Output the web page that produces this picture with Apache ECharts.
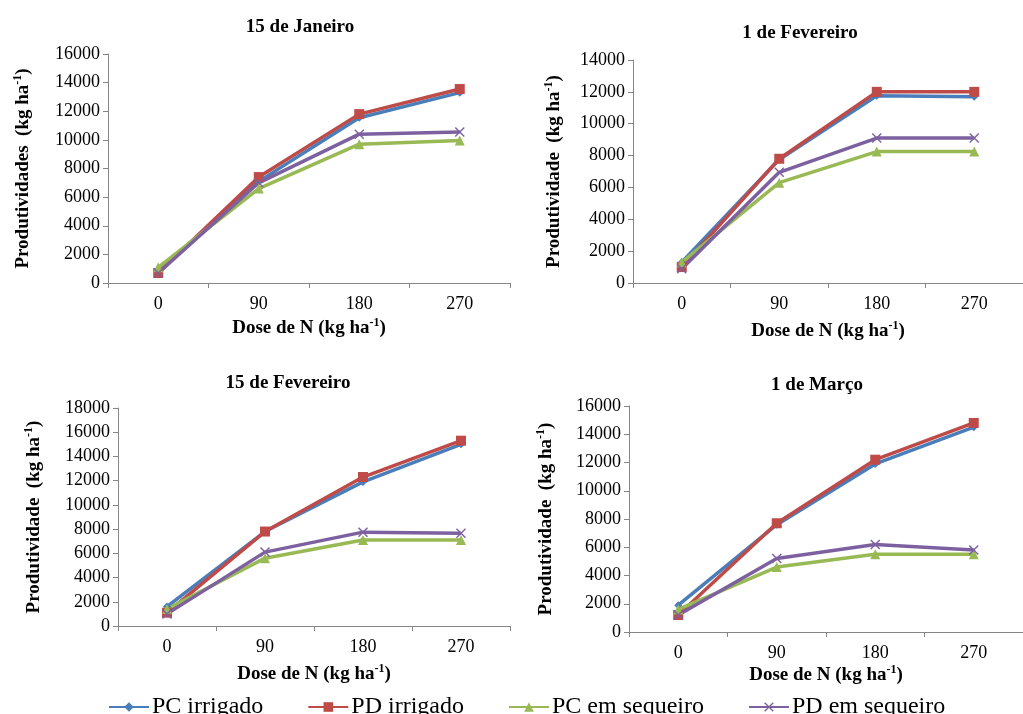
<!DOCTYPE html>
<html>
<head>
<meta charset="utf-8">
<script src="https://cdn.jsdelivr.net/npm/echarts@6/dist/echarts.min.js"></script>
<style>html,body{margin:0;padding:0;background:#fff;}#c{width:1023px;height:714px;}</style>
</head>
<body>
<div id="c"></div>
<script>
const categories = ['0', '90', '180', '270'];
const seriesNames = ['PC irrigado', 'PD irrigado', 'PC em sequeiro', 'PD em sequeiro'];
const panelTitles = ['15 de Janeiro', '1 de Fevereiro', '15 de Fevereiro', '1 de Março'];
const yNames = ['Produtividades', 'Produtividade', 'Produtividade', 'Produtividade'];
const yMax = [16000, 14000, 18000, 16000];
const yInterval = 2000;

const jan15_pcIrr = [800, 7100, 11550, 13300];
const jan15_pdIrr = [700, 7400, 11800, 13550];
const jan15_pcSeq = [1100, 6600, 9700, 9950];
const jan15_pdSeq = [700, 7000, 10400, 10550];

const feb1_pcIrr = [1300, 7750, 11750, 11700];
const feb1_pdIrr = [1000, 7800, 12000, 12000];
const feb1_pcSeq = [1300, 6300, 8250, 8250];
const feb1_pdSeq = [900, 6950, 9100, 9100];

const feb15_pcIrr = [1600, 7800, 11900, 15000];
const feb15_pdIrr = [1100, 7800, 12300, 15300];
const feb15_pcSeq = [1400, 5600, 7100, 7100];
const feb15_pdSeq = [1000, 6100, 7750, 7650];

const mar1_pcIrr = [1900, 7600, 11900, 14500];
const mar1_pdIrr = [1200, 7700, 12200, 14800];
const mar1_pcSeq = [1600, 4600, 5500, 5500];
const mar1_pdSeq = [1200, 5200, 6200, 5800];

const panelData = [
  [jan15_pcIrr, jan15_pdIrr, jan15_pcSeq, jan15_pdSeq],
  [feb1_pcIrr, feb1_pdIrr, feb1_pcSeq, feb1_pdSeq],
  [feb15_pcIrr, feb15_pdIrr, feb15_pcSeq, feb15_pdSeq],
  [mar1_pcIrr, mar1_pdIrr, mar1_pcSeq, mar1_pdSeq]
];

const FONT = 'Liberation Serif, Times New Roman, serif';
const colors = ['#4A7EBB', '#BE4B48', '#98B954', '#7D60A0'];
const xSymbol = 'path://M1,0 L5,4 L9,0 L10,1 L6,5 L10,9 L9,10 L5,6 L1,10 L0,9 L4,5 L0,1 Z';
const symbols = ['diamond', 'rect', 'triangle', xSymbol];
const symbolSizes = [8, 10, 10, 10];

const grids = [
  {left: 108, top: 54, width: 402, height: 229},
  {left: 633, top: 60, width: 400, height: 223},
  {left: 118, top: 408, width: 392, height: 218},
  {left: 629, top: 406, width: 394, height: 226}
];
const titlePos = [[300, 27], [800, 33], [288, 383], [817, 385]];
const xNameGap = [34, 37, 37, 32];
const yNameGap = [74, 68, 73, 72];

const rich = {
  a: {fontFamily: FONT, fontWeight: 'bold', fontSize: 19, color: '#000', lineHeight: 22},
  s: {fontFamily: FONT, fontWeight: 'bold', fontSize: 12, color: '#000', verticalAlign: 'top', lineHeight: 22}
};

const xAxes = [], yAxes = [], series = [], graphics = [];
for (let i = 0; i < 4; i++) {
  xAxes.push({
    type: 'category', gridIndex: i, data: categories, boundaryGap: true,
    name: '{a|Dose de N (kg ha}{s|-1}{a|)}', nameLocation: 'middle', nameGap: xNameGap[i],
    nameTextStyle: {rich: rich},
    axisLine: {lineStyle: {color: '#868686', width: 1}},
    axisTick: {show: true, length: 5, inside: false, lineStyle: {color: '#868686'}},
    axisLabel: {fontFamily: FONT, fontSize: 18, color: '#000', margin: 12},
    splitLine: {show: false}
  });
  yAxes.push({
    type: 'value', gridIndex: i, min: 0, max: yMax[i], interval: yInterval,
    name: '{a|' + yNames[i] + '  (kg ha}{s|-1}{a|)}', nameLocation: 'middle', nameRotate: 90, nameGap: yNameGap[i],
    nameTextStyle: {rich: rich},
    axisLine: {show: true, lineStyle: {color: '#868686', width: 1}},
    axisTick: {show: true, length: 5, lineStyle: {color: '#868686'}},
    axisLabel: {fontFamily: FONT, fontSize: 18, color: '#000', margin: 8, formatter: function (v) { return String(v); }},
    splitLine: {show: false}
  });
  for (let k = 0; k < 4; k++) {
    series.push({
      type: 'line', name: seriesNames[k], xAxisIndex: i, yAxisIndex: i,
      data: panelData[i][k],
      symbol: symbols[k], symbolSize: symbolSizes[k], showAllSymbol: true,
      lineStyle: {color: colors[k], width: 3.5},
      itemStyle: {color: colors[k]},
      animation: false
    });
  }
  graphics.push({
    type: 'text', x: titlePos[i][0], y: titlePos[i][1],
    style: {text: panelTitles[i], fontFamily: FONT, fontWeight: 'bold', fontSize: 19, fill: '#000',
      textAlign: 'center', textVerticalAlign: 'middle'}
  });
}

const chart = echarts.init(document.getElementById('c'), null, {renderer: 'canvas'});
chart.setOption({
  animation: false,
  backgroundColor: '#fff',
  color: colors,
  grid: grids,
  xAxis: xAxes,
  yAxis: yAxes,
  series: series,
  graphic: graphics,
  legend: {
    data: seriesNames, bottom: -10, left: 103, itemWidth: 40, itemHeight: 12, itemGap: 44,
    textStyle: {fontFamily: FONT, fontSize: 24, color: '#000', padding: [0, 0, 0, -2]}
  }
});
</script>
</body>
</html>
